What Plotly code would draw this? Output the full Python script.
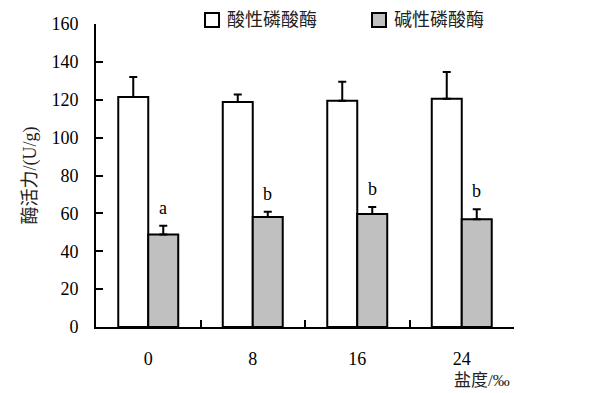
import plotly.graph_objects as go

categories = ["0", "8", "16", "24"]
acid_values = [121.5, 118.8, 119.5, 120.5]
acid_err = [10.5, 4.0, 10.0, 14.2]
alk_values = [48.8, 58.1, 59.7, 56.9]
alk_err = [4.6, 2.7, 3.7, 5.3]
alk_letters = ["a", "b", "b", "b"]
series_names = ["酸性磷酸酶", "碱性磷酸酶"]
series_colors = ["white", "#c0c0c0"]
y_ticks = [0, 20, 40, 60, 80, 100, 120, 140, 160]

FONT = "Liberation Serif, Noto Sans CJK SC, serif"

fig = go.Figure()
fig.add_trace(go.Bar(
    x=categories, y=acid_values, name=series_names[0], showlegend=False,
    marker=dict(color=series_colors[0], line=dict(color="black", width=2)),
    error_y=dict(type="data", array=acid_err, arrayminus=[0]*4,
                 color="black", thickness=2, width=4),
))
fig.add_trace(go.Bar(
    x=categories, y=alk_values, name=series_names[1], showlegend=False,
    marker=dict(color=series_colors[1], line=dict(color="black", width=2)),
    error_y=dict(type="data", array=alk_err, arrayminus=[0]*4,
                 color="black", thickness=2, width=4),
))

for i in range(len(categories)):
    fig.add_annotation(
        x=i, y=alk_values[i] + alk_err[i], text=alk_letters[i],
        xshift=15, yshift=6, yanchor="bottom", showarrow=False,
        font=dict(family=FONT, size=18, color="black"),
    )

# legend (manual, to keep plot area fixed)
legend_x = [0.2608, 0.6603]
for k, name in enumerate(series_names):
    fig.add_shape(type="rect", xref="paper", yref="paper",
                  x0=legend_x[k], x1=legend_x[k] + 0.0335, y0=0.990, y1=1.0363,
                  line=dict(color="black", width=2), fillcolor=series_colors[k])
    fig.add_annotation(xref="paper", yref="paper", x=legend_x[k] + 0.048, y=1.0132,
                       text=name, xanchor="left", yanchor="middle", showarrow=False,
                       font=dict(family=FONT, size=18, color="#222"))

fig.add_annotation(
    xref="paper", yref="paper", x=0.995, y=-0.175, text="盐度/‰",
    xanchor="right", yanchor="middle", showarrow=False,
    font=dict(family=FONT, size=17, color="#222"),
)

fig.update_layout(
    width=589, height=393,
    margin=dict(l=96, r=75, t=24, b=66),
    paper_bgcolor="white", plot_bgcolor="white",
    barmode="group", bargap=0.426, bargroupgap=0,
    font=dict(family=FONT, size=18, color="black"),
    showlegend=False,
    xaxis=dict(
        type="category", range=[-0.5, 3.5], automargin=False,
        showline=True, linecolor="black", linewidth=2,
        ticks="inside", tickson="boundaries", ticklen=7, tickwidth=2, tickcolor="black",
        showgrid=False, zeroline=False, ticklabelstandoff=14,
        tickfont=dict(family=FONT, size=18, color="black"),
    ),
    yaxis=dict(
        range=[0, 160], tickvals=y_ticks, automargin=False,
        showline=True, linecolor="black", linewidth=2,
        ticks="inside", ticklen=7, tickwidth=2, tickcolor="black",
        showgrid=False, zeroline=False, ticklabelstandoff=12,
        tickfont=dict(family=FONT, size=18, color="black"),
        title=dict(text="酶活力/(U/g)", standoff=10,
                   font=dict(family=FONT, size=18, color="#222")),
    ),
)

fig.write_html("out.html", config={"displayModeBar": False},
               post_script="document.body.style.margin='0';")
